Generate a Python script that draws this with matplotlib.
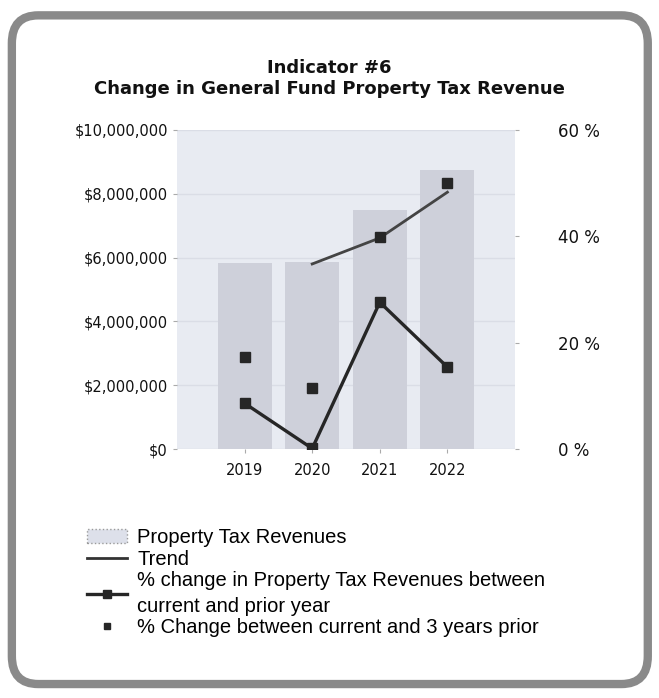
import matplotlib

matplotlib.use("Agg")
import matplotlib.pyplot as plt
from matplotlib.lines import Line2D
from matplotlib.patches import FancyBboxPatch, Patch
from matplotlib.ticker import FuncFormatter

# data
years = ["2019", "2020", "2021", "2022"]
revenues = [5840000, 5850000, 7500000, 8750000]
pct_change_prior_year = [8.6, 0.1, 27.6, 15.4]
pct_change_3yr_prior = [17.3, 11.5, 39.8, 50.0]
trend = [None, 34.8, 39.7, 48.3]

left_ticks = [0, 2000000, 4000000, 6000000, 8000000, 10000000]
right_ticks = [0, 20, 40, 60]

fig = plt.figure(figsize=(6.59, 6.98), dpi=100)
fig.patch.set_facecolor("white")

# rounded grey frame around the whole chart
frame = FancyBboxPatch((0.018, 0.02), 0.965, 0.958,
                       boxstyle="round,pad=0,rounding_size=0.04",
                       transform=fig.transFigure, facecolor="none",
                       edgecolor="#8a8a8a", linewidth=6, zorder=-1)
fig.patches.append(frame)

fig.text(0.5, 0.902, "Indicator #6", ha="center", va="center",
         fontsize=13, fontweight="bold", color="#111111")
fig.text(0.5, 0.873, "Change in General Fund Property Tax Revenue", ha="center",
         va="center", fontsize=13, fontweight="bold", color="#111111")

ax = fig.add_axes([0.2686, 0.3567, 0.5129, 0.4571], zorder=2)
ax.set_facecolor("#e8ebf2")
x = list(range(len(years)))
ax.bar(x, revenues, width=0.8, color="#ced0da", zorder=2)
ax.set_xlim(-1, 4)
ax.set_ylim(0, 10000000)
ax.set_yticks(left_ticks)
ax.yaxis.set_major_formatter(FuncFormatter(lambda v, p: f"${v:,.0f}"))
ax.set_xticks(x)
ax.set_xticklabels(years)
ax.grid(axis="y", color="#dadde6", linewidth=1, zorder=1)
for s in ax.spines.values():
    s.set_visible(False)
ax.tick_params(axis="both", labelsize=10.5, colors="#aaaaaa", labelcolor="#111111",
               length=3)
ax.tick_params(axis="x", pad=7)

ax2 = ax.twinx()
ax2.set_ylim(0, 60)
ax2.set_yticks(right_ticks)
ax2.set_yticklabels([f"{t} %" for t in right_ticks])
ax2.tick_params(axis="y", labelsize=12, colors="#aaaaaa", labelcolor="#111111",
                length=3, pad=28)
for s in ax2.spines.values():
    s.set_visible(False)

trend_x = [xi for xi, t in zip(x, trend) if t is not None]
trend_y = [t for t in trend if t is not None]
ax2.plot(trend_x, trend_y, color="#444444", linewidth=2, zorder=3)
ax2.plot(x, pct_change_prior_year, color="#262626", linewidth=2.4, marker="s",
         markersize=7, zorder=4)
ax2.plot(x, pct_change_3yr_prior, linestyle="none", marker="s", markersize=7,
         color="#262626", zorder=5)

handles = [
    Patch(facecolor="#dde0ea", edgecolor="#9a9a9a", linestyle=":", linewidth=1),
    Line2D([], [], color="#333333", linewidth=2),
    Line2D([], [], color="#262626", linewidth=2.4, marker="s", markersize=6),
    Line2D([], [], linestyle="none", color="#262626", marker="s", markersize=4.5),
]
labels = [
    "Property Tax Revenues",
    "Trend",
    "% change in Property Tax Revenues between\ncurrent and prior year",
    "% Change between current and 3 years prior",
]
leg = fig.legend(handles, labels, loc="upper left", bbox_to_anchor=(0.132, 0.243),
                 frameon=False, prop={"family": "Liberation Sans", "size": 14.5},
                 handlelength=2.0, handletextpad=0.5, labelspacing=0.12,
                 borderaxespad=0, borderpad=0)
for t in leg.get_texts():
    t.set_linespacing(1.45)

fig.savefig("out.png", dpi=100)
